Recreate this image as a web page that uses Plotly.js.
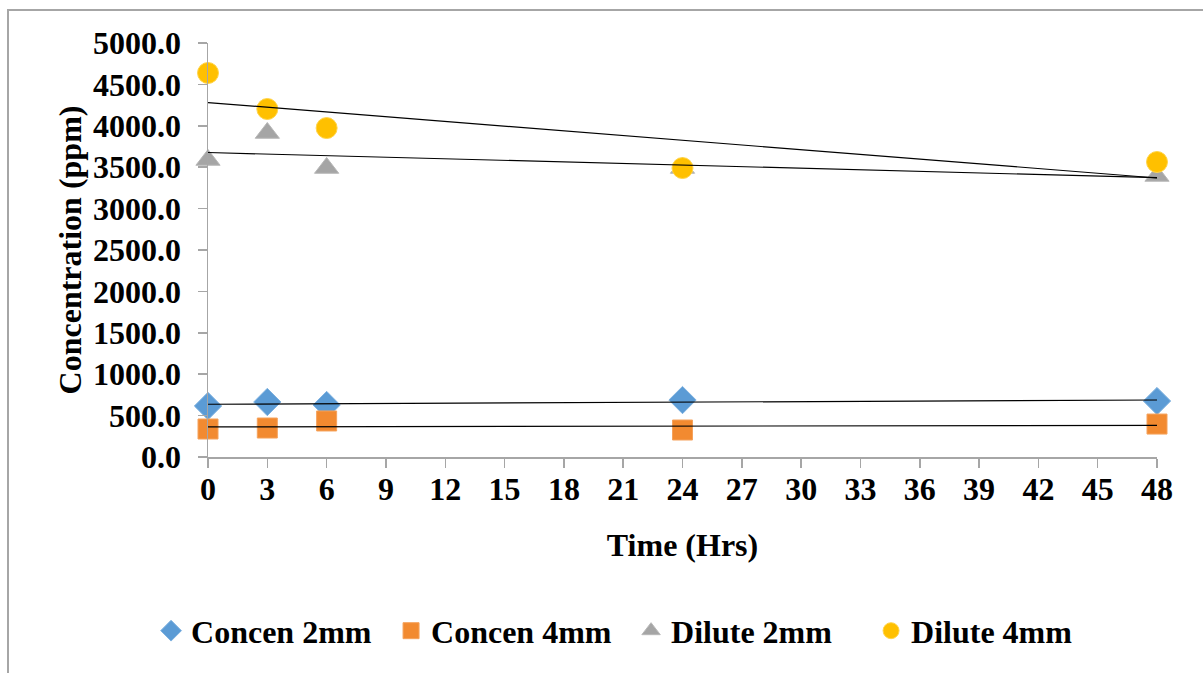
<!DOCTYPE html>
<html>
<head>
<meta charset="utf-8">
<script src="https://cdn.plot.ly/plotly-3.0.1.min.js"></script>
<style>
html,body{margin:0;padding:0;background:#fff;}
#frame{position:absolute;left:7px;top:9px;width:1300px;height:800px;border-left:2px solid #a6a6a6;border-top:2px solid #a6a6a6;}
#chart{position:absolute;left:0;top:0;width:1203px;height:673px;}
</style>
</head>
<body>
<div id="frame"></div>
<div id="chart"></div>
<script>
// Data
const timeHrs = [0, 3, 6, 24, 48];
const concen2mm = [616, 664, 628, 688, 676];
const concen4mm = [338, 350, 435, 326, 398];
const dilute2mm = [3587, 3913, 3490, 3490, 3394];
const dilute4mm = [4638, 4203, 3973, 3490, 3563];
const seriesNames = ['Concen 2mm', 'Concen 4mm', 'Dilute 2mm', 'Dilute 4mm'];
const xTicks = [0,3,6,9,12,15,18,21,24,27,30,33,36,39,42,45,48];
const yTicks = [0,500,1000,1500,2000,2500,3000,3500,4000,4500,5000];

// Linear least-squares trendline computed from each series
function trend(xs, ys) {
  const n = xs.length;
  const mx = xs.reduce((a,b)=>a+b,0)/n;
  const my = ys.reduce((a,b)=>a+b,0)/n;
  let sxy = 0, sxx = 0;
  for (let i=0;i<n;i++){ sxy += (xs[i]-mx)*(ys[i]-my); sxx += (xs[i]-mx)**2; }
  const m = sxy/sxx, b = my - m*mx;
  const x0 = Math.min(...xs), x1 = Math.max(...xs);
  return {x:[x0,x1], y:[m*x0+b, m*x1+b]};
}

const font = "'Liberation Serif', 'Times New Roman', serif";
const FS = 32;
const styles = [
  {symbol:'diamond', color:'#5b9bd5', line:'#7fb2e0', size:21},
  {symbol:'square', color:'#f28a30', line:'#f5a25c', size:20},
  {symbol:'triangle-up', color:'#a5a5a5', line:'#b8b8b8', size:21},
  {symbol:'circle', color:'#ffc000', line:'#ffd54d', size:21}
];
const allY = [concen2mm, concen4mm, dilute2mm, dilute4mm];

const traces = [];
allY.forEach((ys, i) => {
  traces.push({
    x: timeHrs, y: ys, name: seriesNames[i], type:'scatter', mode:'markers',
    cliponaxis:false,
    marker:{symbol:styles[i].symbol, color:styles[i].color, size:styles[i].size,
            line:{color:styles[i].line, width:1}},
    hoverinfo:'x+y'
  });
});
allY.forEach((ys) => {
  const t = trend(timeHrs, ys);
  traces.push({x:t.x, y:t.y, type:'scatter', mode:'lines', showlegend:false,
    cliponaxis:false, line:{color:'#000', width:1.2}, hoverinfo:'skip'});
});

const layout = {
  width:1203, height:673,
  margin:{l:208, r:46, t:43, b:216},
  paper_bgcolor:'rgba(0,0,0,0)', plot_bgcolor:'rgba(0,0,0,0)',
  font:{family:font, color:'#000'},
  xaxis:{
    range:[0,48], tickvals:xTicks, ticktext:xTicks.map(String),
    showgrid:false, zeroline:false, showline:true, linecolor:'#a6a6a6', linewidth:1.5,
    ticks:'outside', ticklen:9, tickcolor:'#a6a6a6', tickwidth:1.5, ticklabelstandoff:-6,
    tickfont:{family:font, size:FS, color:'#000', weight:'bold'},
    title:{text:'<b>Time (Hrs)</b>', font:{family:font, size:FS, color:'#000'}, standoff:27}
  },
  yaxis:{
    range:[0,5000], tickvals:yTicks, ticktext:yTicks.map(v=>v.toFixed(1)),
    showgrid:false, zeroline:false, showline:true, linecolor:'#a6a6a6', linewidth:1.5,
    ticks:'outside', ticklen:9, tickcolor:'#a6a6a6', tickwidth:1.5, ticklabelstandoff:10,
    tickfont:{family:font, size:FS, color:'#000', weight:'bold'},
    title:{text:'<b>Concentration (ppm)</b>', font:{family:font, size:FS, color:'#000'}, standoff:2}
  },
  legend:{
    orientation:'h', x:-0.060, xanchor:'left', y:-0.42, yanchor:'middle',
    font:{family:font, size:FS, color:'#000', weight:'bold'},
    entrywidth:195, entrywidthmode:'pixels', itemwidth:30,
    bgcolor:'rgba(0,0,0,0)'
  },
  showlegend:true
};

Plotly.newPlot('chart', traces, layout, {displayModeBar:false, staticPlot:true});
</script>
</body>
</html>
